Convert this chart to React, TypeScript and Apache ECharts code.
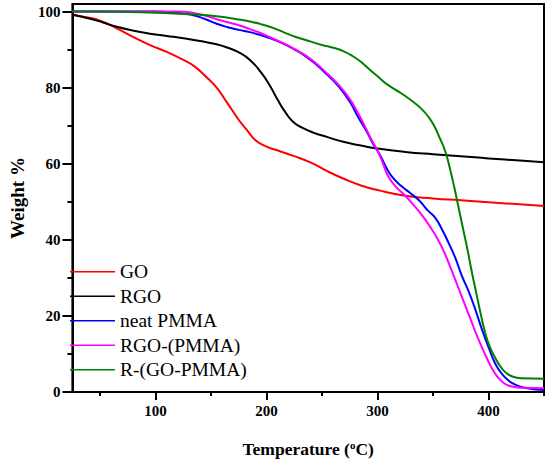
import React, { useEffect, useRef } from "react";
import * as echarts from "echarts";

// ---- Data (Temperature °C, Weight %) ----
const goData: [number, number][] = [
  [25, 99.2], [40, 98.4], [50, 97.6], [65, 95.6], [80, 93.3], [95, 91.2],
  [110, 89.4], [125, 87.3], [135, 85.6], [145, 83.0], [155, 80.0], [165, 75.8],
  [175, 71.5], [182, 69.0], [190, 66.2], [200, 64.5], [212, 63.3], [225, 62.0],
  [240, 60.3], [255, 58.0], [270, 56.0], [285, 54.3], [300, 53.1], [325, 51.6],
  [350, 50.9], [375, 50.4], [400, 49.9], [425, 49.4], [450, 48.9],
];
const rgoData: [number, number][] = [
  [25, 99.2], [40, 98.2], [52, 97.2], [65, 96.0], [80, 95.0], [95, 94.2],
  [110, 93.6], [125, 93.0], [140, 92.3], [155, 91.4], [165, 90.5], [175, 89.3],
  [185, 87.3], [195, 84.0], [203, 80.5], [210, 76.8], [217, 73.5], [224, 71.0],
  [232, 69.5], [242, 68.2], [255, 67.0], [270, 65.7], [285, 64.8], [300, 64.0],
  [325, 63.1], [350, 62.5], [375, 62.0], [400, 61.4], [425, 60.9], [450, 60.4],
];
const pmmaData: [number, number][] = [
  [25, 100], [50, 100], [75, 100], [100, 100], [115, 99.8], [125, 99.5],
  [135, 99.0], [145, 98.0], [155, 96.8], [165, 95.9], [175, 95.2], [185, 94.6],
  [195, 93.8], [205, 92.8], [215, 91.6], [225, 90.1], [235, 88.3], [245, 86.0],
  [255, 83.3], [265, 80.3], [275, 76.3], [283, 72.0], [290, 68.6], [296, 65.2],
  [302, 62.4], [307, 59.5], [313, 56.6], [322, 54.0], [330, 52.2], [338, 50.2],
  [345, 47.8], [352, 45.8], [358, 42.8], [364, 39.2], [370, 35.3], [376, 30.5],
  [382, 26.5], [388, 21.8], [394, 16.5], [400, 11.8], [406, 7.5], [412, 4.8],
  [418, 3.0], [425, 1.8], [435, 1.0], [450, 0.5],
];
const rgoPmmaData: [number, number][] = [
  [25, 100], [50, 100], [75, 100], [100, 100], [120, 100], [135, 99.6],
  [145, 98.9], [155, 98.0], [165, 97.2], [175, 96.4], [185, 95.4], [195, 94.3],
  [205, 93.0], [215, 91.7], [225, 90.2], [235, 88.5], [245, 86.3], [255, 83.6],
  [265, 80.7], [275, 77.0], [283, 73.0], [290, 69.0], [296, 65.5], [300, 63.5],
  [305, 60.0], [310, 56.5], [317, 53.8], [325, 51.6], [333, 49.0], [340, 46.5],
  [347, 43.6], [354, 40.3], [360, 36.8], [366, 32.5], [372, 28.0], [378, 23.5],
  [384, 19.0], [390, 14.5], [396, 10.5], [402, 6.8], [408, 4.0], [414, 2.3],
  [420, 1.5], [430, 1.1], [450, 1.0],
];
const rGoPmmaData: [number, number][] = [
  [25, 100], [50, 100], [75, 99.9], [100, 99.7], [125, 99.4], [140, 99.2],
  [155, 98.8], [165, 98.4], [175, 97.9], [185, 97.4], [195, 96.7], [205, 95.8],
  [212, 95.0], [220, 94.0], [230, 93.0], [240, 92.1], [250, 91.2], [260, 90.5],
  [270, 89.5], [278, 88.2], [285, 86.8], [292, 85.0], [300, 83.0], [308, 81.0],
  [316, 79.5], [324, 78.0], [332, 76.3], [340, 74.3], [346, 72.3], [351, 70.0],
  [356, 66.8], [361, 63.3], [365, 59.0], [369, 54.0], [373, 48.5], [377, 43.0],
  [381, 37.5], [385, 31.5], [389, 26.0], [393, 20.5], [397, 15.5], [401, 12.0],
  [406, 9.0], [411, 6.6], [416, 5.0], [422, 4.0], [430, 3.6], [450, 3.5],
];

const seriesNames = ["GO", "RGO", "neat PMMA", "RGO-(PMMA)", "R-(GO-PMMA)"];
const seriesData = [goData, rgoData, pmmaData, rgoPmmaData, rGoPmmaData];
const seriesColors = ["#ff0000", "#000000", "#0000ff", "#ff00ff", "#008000"];

const xMajorTicks = [100, 200, 300, 400];
const xMinorTicks = [50, 150, 250, 350, 450];
const yMajorTicks = [0, 20, 40, 60, 80, 100];
const yMinorTicks = [10, 30, 50, 70, 90];
const xRange = [25, 450];
const yRange = [0, 102];

const FONT = "'Liberation Serif', 'Times New Roman', serif";

export default function App() {
  const ref = useRef<HTMLDivElement>(null);
  useEffect(() => {
    if (!ref.current) return;
    const chart = echarts.init(ref.current, null, { renderer: "svg" });
    const axisLine = { show: true, lineStyle: { color: "#000", width: 2 } };
    const option: any = {
      animation: false,
      backgroundColor: "#fff",
      grid: {
        left: 63, right: 6, top: 4, bottom: 66,
        show: true, borderColor: "#000", borderWidth: 2,
      },
      legend: {
        orient: "vertical",
        left: 70,
        top: 259.5,
        padding: 0,
        icon: "rect",
        itemWidth: 45,
        itemHeight: 1.5,
        itemGap: 0,
        data: seriesNames,
        textStyle: { fontFamily: FONT, fontSize: 19.5, color: "#000", lineHeight: 24.5 },
      },
      xAxis: [
        {
          type: "value", min: xRange[0], max: xRange[1], position: "bottom",
          axisLine,
          splitLine: { show: false },
          axisTick: { show: true, inside: false, length: 8, lineStyle: { color: "#000", width: 2 }, customValues: xMajorTicks },
          axisLabel: { customValues: xMajorTicks, margin: 11, color: "#000", fontFamily: FONT, fontWeight: "bold", fontSize: 15 },
          name: "{n|Temperature (}{s|o}{n|C)}",
          nameLocation: "middle",
          nameGap: 47,
          nameTextStyle: {
            rich: {
              n: { fontFamily: FONT, fontWeight: "bold", fontSize: 17.5, color: "#000", lineHeight: 20 },
              s: { fontFamily: FONT, fontWeight: "bold", fontSize: 11, color: "#000", verticalAlign: "top", lineHeight: 20, padding: [0, 0, 8, 0] },
            },
          },
        },
        {
          type: "value", min: xRange[0], max: xRange[1], position: "bottom",
          axisLine: { show: false },
          splitLine: { show: false },
          axisTick: { show: true, inside: false, length: 4, lineStyle: { color: "#000", width: 2 }, customValues: xMinorTicks },
          axisLabel: { show: false },
        },
      ],
      yAxis: [
        {
          type: "value", min: yRange[0], max: yRange[1], position: "left",
          axisLine,
          splitLine: { show: false },
          axisTick: { show: true, inside: false, length: 10, lineStyle: { color: "#000", width: 2 }, customValues: yMajorTicks },
          axisLabel: { customValues: yMajorTicks, margin: 12, color: "#000", fontFamily: FONT, fontWeight: "bold", fontSize: 15 },
          name: "Weight %",
          nameLocation: "middle",
          nameGap: 39.5,
          nameTextStyle: { fontFamily: FONT, fontWeight: "bold", fontSize: 19, color: "#000" },
        },
        {
          type: "value", min: yRange[0], max: yRange[1], position: "left",
          axisLine: { show: false },
          splitLine: { show: false },
          axisTick: { show: true, inside: false, length: 5, lineStyle: { color: "#000", width: 2 }, customValues: yMinorTicks },
          axisLabel: { show: false },
        },
      ],
      series: seriesNames.map((name, i) => ({
        name,
        type: "line",
        data: seriesData[i],
        xAxisIndex: 0,
        yAxisIndex: 0,
        showSymbol: false,
        symbol: "none",
        smooth: true,
        color: seriesColors[i],
        lineStyle: { color: seriesColors[i], width: 2 },
        z: 2 + (i === 1 ? 0 : i),
      })),
    };
    chart.setOption(option);
    return () => chart.dispose();
  }, []);
  return <div ref={ref} style={{ position: "fixed", left: 0, top: 0, width: 550, height: 463 }} />;
}
